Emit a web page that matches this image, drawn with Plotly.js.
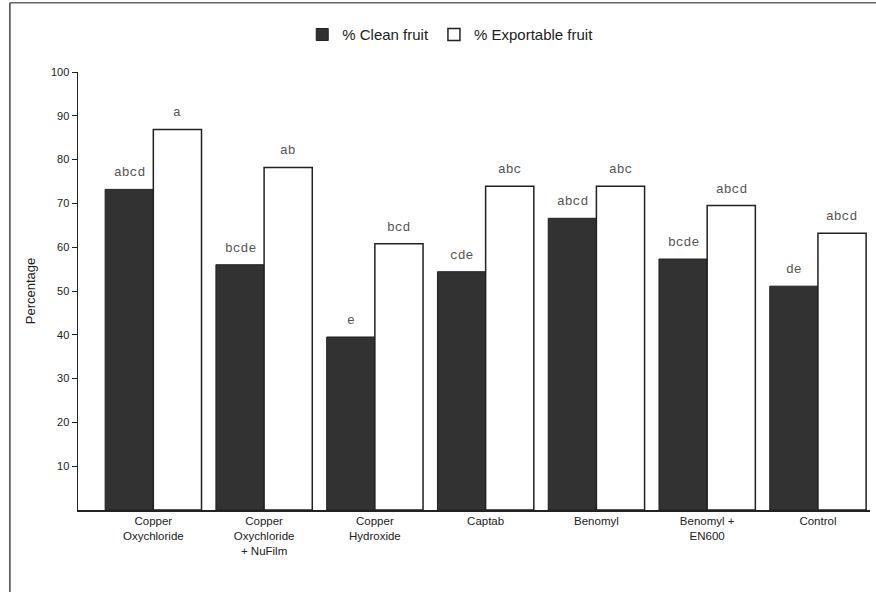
<!DOCTYPE html>
<html>
<head>
<meta charset="utf-8">
<script src="https://cdn.plot.ly/plotly-3.0.1.min.js"></script>
<style>html,body{margin:0;padding:0;background:#fff;}</style>
</head>
<body>
<div id="chart" style="width:876px;height:592px;"></div>
<script>
const categories = ["Copper<br>Oxychloride", "Copper<br>Oxychloride<br>+ NuFilm", "Copper<br>Hydroxide", "Captab", "Benomyl", "Benomyl +<br>EN600", "Control"];
const cleanFruit = [73.2, 56.0, 39.5, 54.4, 66.6, 57.3, 51.1];
const exportableFruit = [86.9, 78.2, 60.8, 73.9, 73.9, 69.5, 63.2];
const cleanLetters = ["abcd", "bcde", "e", "cde", "abcd", "bcde", "de"];
const exportLetters = ["a", "ab", "bcd", "abc", "abc", "abcd", "abcd"];
const yTicks = [10, 20, 30, 40, 50, 60, 70, 80, 90, 100];

const letterFont = {family: "Liberation Mono, DejaVu Sans Mono, monospace", size: 13, color: "#555"};

const traces = [
  {
    type: "bar", name: "% Clean fruit", x: categories, y: cleanFruit,
    marker: {color: "#323232", line: {color: "#222", width: 1}},
    hoverinfo: "skip"
  },
  {
    type: "bar", name: "% Exportable fruit", x: categories, y: exportableFruit,
    marker: {color: "#ffffff", line: {color: "#222", width: 1.5}},
    hoverinfo: "skip"
  }
];

const annotations = [];
categories.forEach((c, i) => {
  annotations.push({x: c, y: cleanFruit[i], xref: "x", yref: "y", text: cleanLetters[i],
    showarrow: false, yanchor: "bottom", yshift: 7, xshift: -24, font: letterFont});
  annotations.push({x: c, y: exportableFruit[i], xref: "x", yref: "y", text: exportLetters[i],
    showarrow: false, yanchor: "bottom", yshift: 7, xshift: 24, font: letterFont});
});

const layout = {
  width: 876, height: 592,
  margin: {l: 78, r: 6, t: 72, b: 82},
  paper_bgcolor: "#fff", plot_bgcolor: "#fff",
  font: {family: "Liberation Sans, Arial, sans-serif", color: "#222", size: 11},
  barmode: "group", bargap: 0.13, bargroupgap: 0,
  showlegend: true,
  legend: {orientation: "h", x: 0.47, xanchor: "center", y: 1.085, yanchor: "middle",
           font: {size: 15, color: "#222"}, itemwidth: 30, traceorder: "normal"},
  xaxis: {
    range: [-0.68, 6.47], showline: true, linecolor: "#222", linewidth: 1.5,
    ticks: "", showgrid: false, zeroline: false, tickfont: {size: 11.5, color: "#222"}
  },
  yaxis: {
    range: [0, 100], tickvals: yTicks, ticktext: yTicks.map(String),
    showline: true, linecolor: "#222", linewidth: 1.5,
    ticks: "outside", ticklen: 5, tickcolor: "#222", showgrid: false, zeroline: false,
    tickfont: {size: 11, color: "#222"},
    title: {text: "Percentage", font: {size: 13, color: "#222"}, standoff: 12}
  },
  annotations: annotations,
  shapes: [
    {type: "line", xref: "paper", yref: "paper", x0: -0.086, x1: -0.086, y0: -0.19, y1: 1.158, line: {color: "#444", width: 1.5}},
    {type: "line", xref: "paper", yref: "paper", x0: -0.086, x1: 1.01, y0: 1.158, y1: 1.158, line: {color: "#666", width: 1.5}}
  ]
};

Plotly.newPlot("chart", traces, layout, {displayModeBar: false, staticPlot: true});
</script>
</body>
</html>
